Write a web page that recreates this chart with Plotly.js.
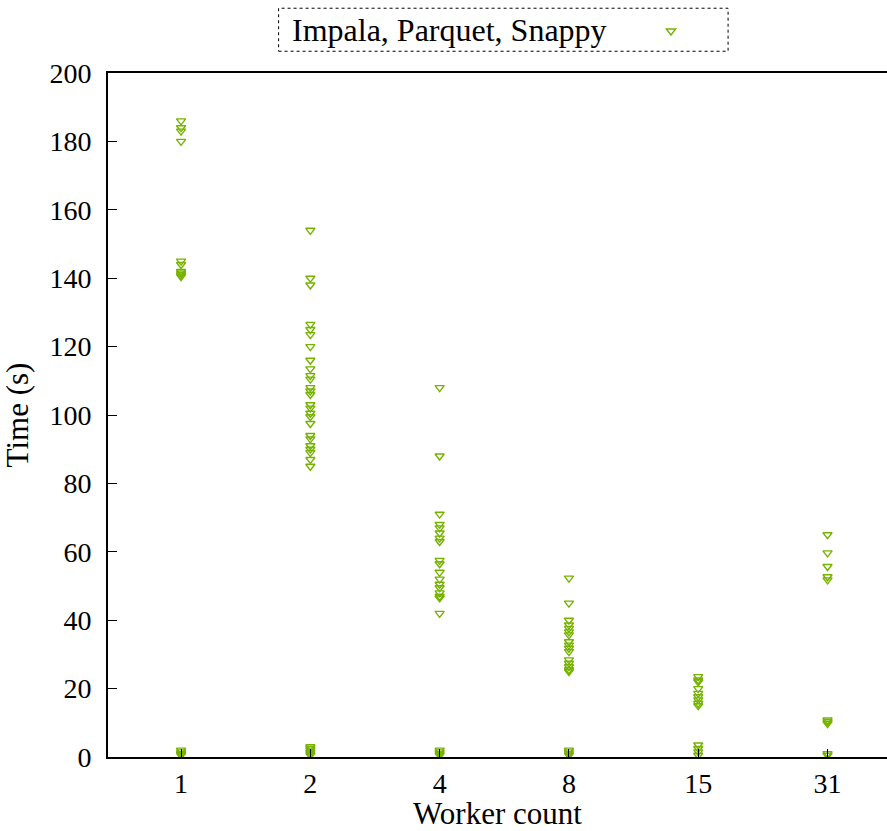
<!DOCTYPE html>
<html>
<head>
<meta charset="utf-8">
<script src="https://cdn.plot.ly/plotly-3.0.1.min.js"></script>
<style>html,body{margin:0;padding:0;background:#fff;}#chart{width:887px;height:831px;}</style>
</head>
<body>
<div id="chart"></div>
<script>
const workerLabels = ["1", "2", "4", "8", "15", "31"];
const times1 = [186, 184, 183, 180, 145, 144, 142, 141.5, 141, 140.5, 2, 1.5, 1, 0.8, 0.5];
const times2 = [154, 140, 138, 126.5, 125, 123.5, 120, 116, 113.5, 111.5, 110.5, 108, 107, 106, 103, 102, 100.5, 99.5, 97.5, 94, 93, 91, 90, 89, 87, 85, 3, 2.5, 2, 1.5, 1, 0.5];
const times4 = [108, 88, 71, 68, 67, 65.5, 64, 63, 57.5, 56.5, 54, 52, 50.5, 49.5, 48, 47, 46.5, 42, 2, 1.5, 1, 0.5];
const times8 = [52.3, 45, 40, 38.6, 37.6, 36.6, 35.7, 33.7, 32.7, 31.8, 30.8, 28.4, 27.4, 26.4, 25.5, 25, 2, 1.5, 1, 0.5];
const times15 = [23.5, 22.5, 22, 20, 18.6, 17.6, 16.7, 15.7, 15, 3.5, 2.5, 1.5, 0.5];
const times31 = [65, 59.7, 55.7, 52.7, 51.8, 10.8, 10.3, 9.8, 1, 0.5];
const seriesName = "Impala, Parquet, Snappy";
const yTicks = [0, 20, 40, 60, 80, 100, 120, 140, 160, 180, 200];

const allTimes = [times1, times2, times4, times8, times15, times31];
const xs = [], ys = [];
allTimes.forEach((arr, i) => arr.forEach(v => { xs.push(i); ys.push(v); }));

const green = "#76b300";
const font = "Liberation Serif, DejaVu Serif, serif";

const traces = [{
  type: "scatter", mode: "markers", x: xs, y: ys, name: " ",
  marker: {symbol: "triangle-down-open", size: 8, color: green, line: {color: green, width: 1.4}},
  showlegend: true, hoverinfo: "skip"
}];

const layout = {
  width: 887, height: 831,
  margin: {l: 108, r: 0, t: 73, b: 74},
  paper_bgcolor: "#fff", plot_bgcolor: "#fff",
  font: {family: font, size: 28, color: "#000"},
  showlegend: true,
  legend: {x: 0.697, y: 1.0614, xanchor: "left", yanchor: "middle", bgcolor: "rgba(0,0,0,0)",
           font: {family: font, size: 20}, itemwidth: 30, tracegroupgap: 0},
  xaxis: {
    range: [-0.565, 5.46], tickmode: "array", tickvals: [0, 1, 2, 3, 4, 5], ticktext: workerLabels,
    showgrid: false, zeroline: false, showline: true, linecolor: "#000", linewidth: 2, mirror: true,
    ticks: "inside", ticklen: 8, tickcolor: "#000", tickfont: {family: font, size: 28},
    title: {text: "Worker count", font: {family: font, size: 31}, standoff: 4}
  },
  yaxis: {
    range: [0, 200], tickmode: "array", tickvals: yTicks,
    showgrid: false, zeroline: false, showline: true, linecolor: "#000", linewidth: 2, mirror: false,
    ticks: "inside", ticklen: 9, tickcolor: "#000", tickfont: {family: font, size: 28},
    ticklabelstandoff: 9,
    title: {text: "Time (s)", font: {family: font, size: 31}, standoff: 12}
  },
  shapes: [{type: "rect", xref: "paper", yref: "paper", x0: 0.219, x1: 0.796, y0: 1.0318, y1: 1.0947,
            line: {color: "#000", width: 1, dash: "dot"}}],
  annotations: [{xref: "paper", yref: "paper", x: 0.234, y: 1.0632, xanchor: "left", yanchor: "middle",
                 text: seriesName, showarrow: false, font: {family: font, size: 32, color: "#000"}}]
};

Plotly.newPlot("chart", traces, layout, {displayModeBar: false, staticPlot: true});
</script>
</body>
</html>
